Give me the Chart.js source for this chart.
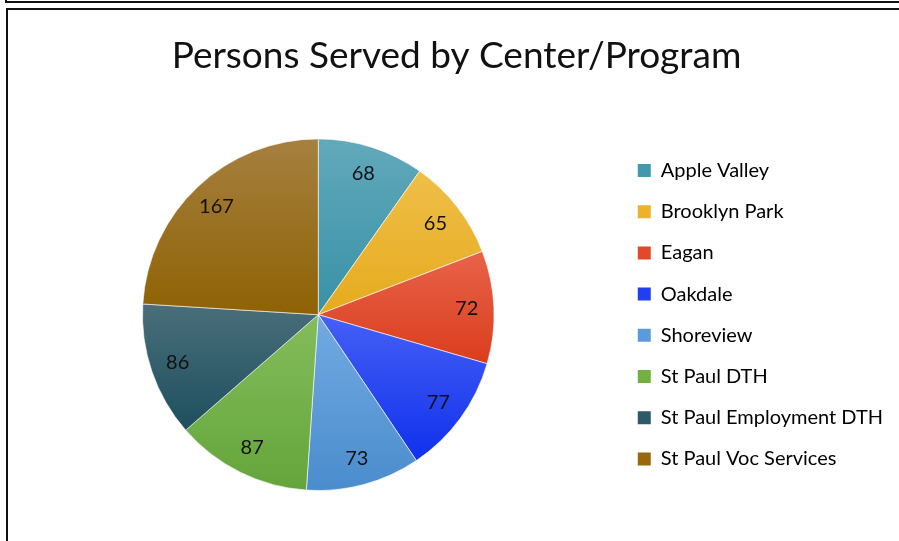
<!DOCTYPE html>
<html>
<head>
<meta charset="utf-8">
<script src="https://cdn.jsdelivr.net/npm/chart.js@4"></script>
<style>
  html, body { margin: 0; padding: 0; background: #fff; }
  #wrap { position: relative; width: 899px; height: 541px; overflow: hidden; }
  #pieChart { position: absolute; left: 0; top: 0; }
  .frame1 { position: absolute; left: 5px; top: -10px; width: 900px; height: 11px;
    border-left: 2px solid #111; border-bottom: 2px solid #111; }
  .frame2 { position: absolute; left: 6px; top: 8px; width: 900px; height: 600px;
    border-left: 2px solid #111; border-top: 2px solid #111; }
</style>
</head>
<body>
<div id="wrap">
  <canvas id="pieChart" width="899" height="541"></canvas>
  <div class="frame1"></div>
  <div class="frame2"></div>
</div>
<script>
const centers = [
  "Apple Valley",
  "Brooklyn Park",
  "Eagan",
  "Oakdale",
  "Shoreview",
  "St Paul DTH",
  "St Paul Employment DTH",
  "St Paul Voc Services",
];
const persons = [68, 65, 72, 77, 73, 87, 86, 167];

const lightColors = ["#62a9bb", "#efbf4a", "#e8634a", "#4560f5", "#72aae2", "#84bd5c", "#4a6e7a", "#a6803f"];
const darkColors = ["#3891a6", "#e6aa1c", "#da3d1c", "#1030ec", "#4a8ccd", "#64a53a", "#1d4f5e", "#8e6204"];
const baseColors = ["#4299ad", "#ecb22c", "#e04a28", "#2040f0", "#5a9bdb", "#72b043", "#2e5a68", "#98690c"];

// per-slice vertical gradient, lighter at the top of each slice
function sliceGradient(context) {
  const chart = context.chart;
  const area = chart.chartArea;
  const i = context.dataIndex;
  if (!area) return baseColors[i];
  const cx = (area.left + area.right) / 2;
  const cy = (area.top + area.bottom) / 2;
  const r = Math.min(area.right - area.left, area.bottom - area.top) / 2;
  const total = persons.reduce((a, b) => a + b, 0);
  let before = 0;
  for (let k = 0; k < i; k++) before += persons[k];
  const a0 = -Math.PI / 2 + (before / total) * Math.PI * 2;
  const a1 = a0 + (persons[i] / total) * Math.PI * 2;
  const ys = [cy, cy + r * Math.sin(a0), cy + r * Math.sin(a1)];
  for (let a = -Math.PI / 2; a <= 2 * Math.PI; a += Math.PI / 2) {
    if (a > a0 && a < a1) ys.push(cy + r * Math.sin(a));
  }
  const top = Math.min(...ys);
  const bottom = Math.max(...ys);
  const g = chart.ctx.createLinearGradient(0, top, 0, bottom);
  g.addColorStop(0, lightColors[i]);
  g.addColorStop(1, darkColors[i]);
  return g;
}

const sliceLabels = {
  id: "sliceLabels",
  afterDatasetsDraw(chart) {
    const ctx = chart.ctx;
    const meta = chart.getDatasetMeta(0);
    ctx.save();
    ctx.font = "20px Lato";
    ctx.fillStyle = "#111";
    ctx.textAlign = "center";
    ctx.textBaseline = "middle";
    meta.data.forEach((arc, i) => {
      const p = arc.getProps(["x", "y", "startAngle", "endAngle", "outerRadius"], true);
      const mid = (p.startAngle + p.endAngle) / 2;
      const r = p.outerRadius * 0.845;
      ctx.fillText(persons[i], p.x + Math.cos(mid) * r, p.y + Math.sin(mid) * r);
    });
    ctx.restore();
  },
};

new Chart(document.getElementById("pieChart"), {
  type: "pie",
  data: {
    labels: centers,
    datasets: [
      {
        data: persons,
        backgroundColor: sliceGradient,
        borderColor: "rgba(255,255,255,0.6)",
        borderWidth: 1,
      },
    ],
  },
  options: {
    responsive: false,
    animation: false,
    layout: {
      padding: { left: 20, right: 6, top: 0, bottom: 50 },
    },
    plugins: {
      title: {
        display: true,
        text: "Persons Served by Center/Program",
        color: "#111",
        font: { family: "Lato", size: 37, weight: "normal" },
        padding: { top: 34, bottom: 60 },
      },
      legend: {
        position: "right",
        fullSize: false,
        labels: {
          color: "#111",
          font: { family: "Lato", size: 20 },
          boxWidth: 13,
          boxHeight: 13,
          padding: 21.2,
          generateLabels(chart) {
            return centers.map((name, i) => ({
              text: name,
              fillStyle: baseColors[i],
              strokeStyle: baseColors[i],
              lineWidth: 0,
              index: i,
              hidden: false,
            }));
          },
        },
      },
      tooltip: { enabled: false },
    },
  },
  plugins: [sliceLabels],
});
</script>
</body>
</html>
